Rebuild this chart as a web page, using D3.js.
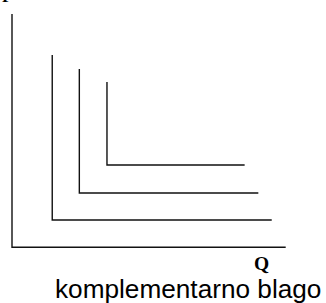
<!DOCTYPE html>
<html><head><meta charset="utf-8">
<script src="https://cdn.jsdelivr.net/npm/d3@7"></script>
<style>html,body{margin:0;padding:0;background:#fff;overflow:hidden}</style>
</head><body>
<script>
// Data (abstract units)
const curveNames = ["I1", "I2", "I3"];
const cornerX = [1.47, 2.46, 3.47];
const cornerY = [1.17, 2.33, 3.53];
const topY = [8.24, 7.64, 7.08];
const endX = [9.49, 9.0, 8.5];
const axisMax = [10, 10];
const xLabel = "Q";
const yLabel = "P";
const caption = "komplementarno blago";

const W = 326, H = 303;
const svg = d3.select("body").append("svg").attr("width", W).attr("height", H);
const x = d3.scaleLinear().domain([0, 10]).range([12, 285.7]);
const y = d3.scaleLinear().domain([0, 10]).range([247.3, 14]);
const line = d3.line().x(d => x(d[0])).y(d => y(d[1]));

// axes
svg.append("path")
  .attr("d", line([[0, axisMax[1]], [0, 0], [axisMax[0], 0]]))
  .attr("fill", "none").attr("stroke", "#111").attr("stroke-width", 1.4);

// L-shaped indifference curves
svg.selectAll("path.curve").data(curveNames).join("path")
  .attr("class", "curve")
  .attr("d", (d, i) => line([[cornerX[i], topY[i]], [cornerX[i], cornerY[i]], [endX[i], cornerY[i]]]))
  .attr("fill", "none").attr("stroke", "#111").attr("stroke-width", 1.4);

svg.append("text").attr("x", 261.5).attr("y", 270).attr("text-anchor", "middle")
  .attr("font-family", "Liberation Serif, Times New Roman, serif").attr("font-weight", "bold")
  .attr("font-size", 19.5).text(xLabel);

svg.append("text").attr("x", 2).attr("y", 1.5)
  .attr("font-family", "Liberation Serif, Times New Roman, serif").attr("font-weight", "bold")
  .attr("font-size", 17).text(yLabel);

svg.append("text").attr("x", 55).attr("y", 298)
  .attr("font-family", "Liberation Sans, Arial, sans-serif")
  .attr("font-size", 26.2).attr("fill", "#000").text(caption);
</script>
</body></html>
